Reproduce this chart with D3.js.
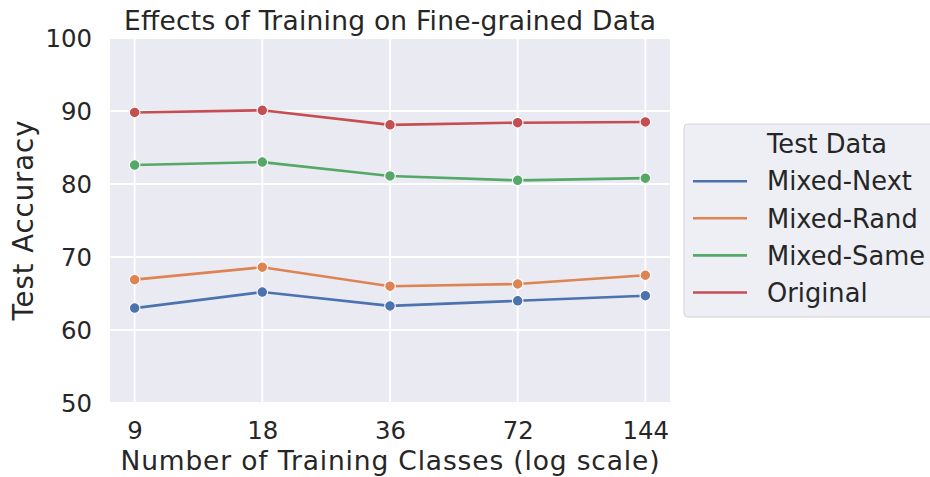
<!DOCTYPE html>
<html><head><meta charset="utf-8">
<script src="https://cdn.jsdelivr.net/npm/d3@7"></script>
<style>body{margin:0;background:#fff}svg{display:block}</style>
</head><body>
<svg id="c" width="930" height="477"></svg>
<script>
const classes = [9, 18, 36, 72, 144];
const seriesNames = ["Mixed-Next", "Mixed-Rand", "Mixed-Same", "Original"];
const mixedNext = [63.0, 65.2, 63.3, 64.0, 64.7];
const mixedRand = [66.9, 68.6, 66.0, 66.3, 67.5];
const mixedSame = [82.6, 83.0, 81.1, 80.5, 80.8];
const original  = [89.8, 90.1, 88.1, 88.4, 88.5];
const yTicks = [50, 60, 70, 80, 90, 100];
const colors = ["#4C72B0", "#DD8452", "#55A868", "#C44E52"];
const seriesVals = [mixedNext, mixedRand, mixedSame, original];

const svg = d3.select("#c");
const font = "'DejaVu Sans', sans-serif";
const txt = "#262626";
const L = 110, R = 670, T = 38, B = 403;
const pad = (R - L) * 0.044;
const x = d3.scaleLog().domain([9, 144]).range([L + pad, R - pad]);
const y = d3.scaleLinear().domain([50, 100]).range([B, T]);

svg.append("rect").attr("x", L).attr("y", T).attr("width", R - L).attr("height", B - T).attr("fill", "#EAEAF2");

// grid
svg.append("g").selectAll("line").data(yTicks).join("line")
  .attr("x1", L).attr("x2", R).attr("y1", d => y(d)).attr("y2", d => y(d))
  .attr("stroke", "#fff").attr("stroke-width", 1.8);
svg.append("g").selectAll("line").data(classes).join("line")
  .attr("x1", d => x(d)).attr("x2", d => x(d)).attr("y1", T).attr("y2", B)
  .attr("stroke", "#fff").attr("stroke-width", 1.8);

// axes
const xAxis = d3.axisBottom(x).tickValues(classes).tickFormat(d3.format("d")).tickSize(0).tickPadding(0);
const gx = svg.append("g").attr("transform", `translate(0,${B})`).call(xAxis);
gx.select(".domain").remove();
gx.selectAll("text").attr("font-family", font).attr("font-size", 24.4).attr("fill", txt)
  .attr("dy", null).attr("y", 35.5);

const yAxis = d3.axisLeft(y).tickValues(yTicks).tickSize(0).tickPadding(0);
const gy = svg.append("g").attr("transform", `translate(${L},0)`).call(yAxis);
gy.select(".domain").remove();
gy.selectAll("text").attr("font-family", font).attr("font-size", 24.4).attr("fill", txt)
  .attr("x", -18).attr("dy", "0.36em");

// lines
const line = d3.line().x((d, i) => x(classes[i])).y(d => y(d));
seriesVals.forEach((vals, k) => {
  svg.append("path").datum(vals).attr("d", line).attr("fill", "none")
    .attr("stroke", colors[k]).attr("stroke-width", 2.6).attr("stroke-linecap", "round");
});
seriesVals.forEach((vals, k) => {
  svg.append("g").selectAll("circle").data(vals).join("circle")
    .attr("cx", (d, i) => x(classes[i])).attr("cy", d => y(d)).attr("r", 5.3)
    .attr("fill", colors[k]).attr("stroke", "#fff").attr("stroke-width", 1.1);
});

// title and labels
svg.append("text").attr("x", (L + R) / 2).attr("y", 30).attr("text-anchor", "middle")
  .attr("font-family", font).attr("font-size", 26.5).attr("fill", txt)
  .attr("textLength", 532).attr("lengthAdjust", "spacing")
  .text("Effects of Training on Fine-grained Data");
svg.append("text").attr("x", (L + R) / 2).attr("y", 470).attr("text-anchor", "middle")
  .attr("font-family", font).attr("font-size", 26.5).attr("fill", txt)
  .attr("textLength", 539).attr("lengthAdjust", "spacing")
  .text("Number of Training Classes (log scale)");
svg.append("text").attr("transform", `translate(33,${(T + B) / 2}) rotate(-90)`).attr("text-anchor", "middle")
  .attr("font-family", font).attr("font-size", 27.5).attr("fill", txt)
  .attr("textLength", 200).attr("lengthAdjust", "spacing")
  .text("Test Accuracy");

// legend
const lg = svg.append("g");
lg.append("rect").attr("x", 684).attr("y", 124).attr("width", 280).attr("height", 193).attr("rx", 4)
  .attr("fill", "#EEEEF5").attr("stroke", "#d4d4d4").attr("stroke-width", 1);
const entries = ["Test Data"].concat(seriesNames);
entries.forEach((name, i) => {
  const by = 153.3 + i * 37.1;
  if (i > 0) {
    lg.append("line").attr("x1", 693).attr("x2", 747).attr("y1", by - 9.2).attr("y2", by - 9.2)
      .attr("stroke", colors[i - 1]).attr("stroke-width", 2.6);
  }
  lg.append("text").attr("x", 767).attr("y", by).attr("font-family", font)
    .attr("font-size", 25.7).attr("fill", txt).text(name);
});
</script>
</body></html>
